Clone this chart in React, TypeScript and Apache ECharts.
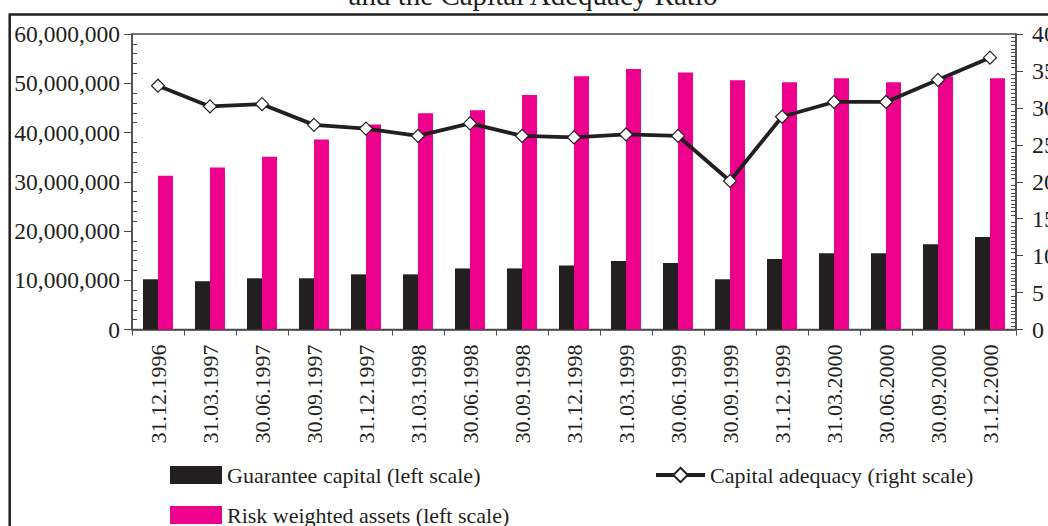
import React, { useEffect, useRef } from "react";
import * as echarts from "echarts";

const categories = [
  "31.12.1996", "31.03.1997", "30.06.1997", "30.09.1997", "31.12.1997",
  "31.03.1998", "30.06.1998", "30.09.1998", "31.12.1998", "31.03.1999",
  "30.06.1999", "30.09.1999", "31.12.1999", "31.03.2000", "30.06.2000",
  "30.09.2000", "31.12.2000",
];

const guaranteeCapital = [
  10200000, 9800000, 10400000, 10400000, 11200000, 11200000, 12400000, 12400000,
  13000000, 13900000, 13500000, 10200000, 14300000, 15500000, 15500000, 17300000,
  18800000,
];

const riskWeightedAssets = [
  31200000, 32900000, 35100000, 38600000, 41600000, 43900000, 44500000, 47600000,
  51400000, 52900000, 52200000, 50600000, 50200000, 51000000, 50200000, 51400000,
  51000000,
];

const capitalAdequacy = [
  33.0, 30.2, 30.5, 27.7, 27.2, 26.2, 27.9, 26.2, 26.0, 26.4, 26.2, 20.1, 28.8,
  30.8, 30.8, 33.8, 36.8,
];

const titleText = "and the Capital Adequacy Ratio";

const FONT = "Liberation Serif";
const INK = "#231f20";
const PINK = "#ec008c";
const AXIS = "#4a4a4a";

const legendText = { fontFamily: FONT, fontSize: 22, color: INK };

export default function App() {
  const ref = useRef<HTMLDivElement>(null);

  useEffect(() => {
    if (!ref.current) return;
    const chart = echarts.init(ref.current, undefined, { renderer: "svg" });
    chart.setOption({
      animation: false,
      backgroundColor: "#ffffff",
      textStyle: { fontFamily: FONT, color: INK },
      graphic: [
        {
          type: "rect",
          shape: { x: 9.7, y: 14.5, width: 1200, height: 700 },
          style: { fill: "none", stroke: INK, lineWidth: 2.5 },
          silent: true,
        },
        {
          type: "text",
          x: 533,
          y: -5.5,
          style: {
            text: titleText,
            font: `29px "${FONT}"`,
            fill: INK,
            align: "center",
            verticalAlign: "middle",
          },
        },
      ],
      legend: [
        {
          left: 170,
          top: 464,
          itemWidth: 52,
          itemHeight: 18,
          padding: 0,
          selectedMode: false,
          textStyle: legendText,
          data: [{ name: "Guarantee capital (left scale)", icon: "rect" }],
        },
        {
          left: 170,
          top: 504,
          itemWidth: 52,
          itemHeight: 18,
          padding: 0,
          selectedMode: false,
          textStyle: legendText,
          data: [{ name: "Risk weighted assets (left scale)", icon: "rect" }],
        },
        {
          left: 654,
          top: 464,
          itemWidth: 49,
          itemHeight: 18,
          padding: 0,
          selectedMode: false,
          textStyle: legendText,
          lineStyle: { width: 4, color: INK },
          data: [{ name: "Capital adequacy (right scale)" }],
        },
      ],
      grid: {
        left: 132,
        right: 32,
        top: 34,
        bottom: 196.5,
        containLabel: false,
        outerBoundsMode: "none",
        show: true,
        borderColor: AXIS,
        borderWidth: 1.5,
      },
      xAxis: {
        type: "category",
        data: categories,
        boundaryGap: true,
        axisLine: { lineStyle: { color: AXIS, width: 1.5 } },
        axisTick: { show: true, length: 6, lineStyle: { color: AXIS } },
        axisLabel: {
          rotate: 90,
          interval: 0,
          margin: 15,
          fontFamily: FONT,
          fontSize: 22,
          color: INK,
        },
      },
      yAxis: [
        {
          type: "value",
          min: 0,
          max: 60000000,
          interval: 10000000,
          splitLine: { show: false },
          axisLine: { show: true, lineStyle: { color: AXIS, width: 1.5 } },
          axisTick: { show: true, length: 8, lineStyle: { color: AXIS } },
          minorTick: {
            show: true,
            splitNumber: 5,
            length: -5,
            lineStyle: { color: AXIS },
          },
          axisLabel: {
            margin: 12,
            fontFamily: FONT,
            fontSize: 23.5,
            color: INK,
            formatter: (v: number) => v.toLocaleString("en-US"),
          },
        },
        {
          type: "value",
          min: 0,
          max: 40,
          interval: 5,
          position: "right",
          splitLine: { show: false },
          axisLine: { show: true, lineStyle: { color: AXIS, width: 1.5 } },
          axisTick: { show: true, length: 7, lineStyle: { color: AXIS } },
          minorTick: {
            show: true,
            splitNumber: 10,
            length: -5,
            lineStyle: { color: AXIS },
          },
          axisLabel: {
            margin: 16,
            fontFamily: FONT,
            fontSize: 24,
            color: INK,
          },
        },
      ],
      series: [
        {
          name: "Guarantee capital (left scale)",
          type: "bar",
          yAxisIndex: 0,
          data: guaranteeCapital,
          barWidth: 15,
          barGap: "0%",
          itemStyle: { color: INK },
        },
        {
          name: "Risk weighted assets (left scale)",
          type: "bar",
          yAxisIndex: 0,
          data: riskWeightedAssets,
          barWidth: 15,
          barGap: "0%",
          itemStyle: { color: PINK },
        },
        {
          name: "Capital adequacy (right scale)",
          type: "line",
          yAxisIndex: 1,
          data: capitalAdequacy,
          symbol: "diamond",
          symbolSize: 13,
          lineStyle: { color: INK, width: 3.8 },
          itemStyle: { color: "#ffffff", borderColor: INK, borderWidth: 1.2 },
          z: 5,
        },
      ],
    });
    return () => chart.dispose();
  }, []);

  return (
    <div
      ref={ref}
      style={{ position: "absolute", left: 0, top: 0, width: 1048, height: 526 }}
    />
  );
}
